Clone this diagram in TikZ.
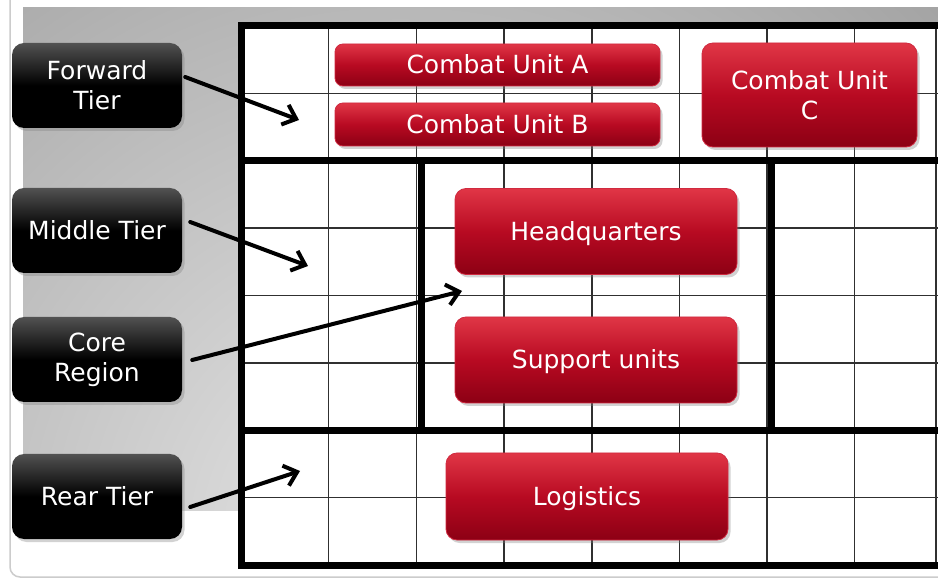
\documentclass[tikz,border=0pt]{standalone}
\usepackage{fontspec}
\setmainfont{DejaVu Sans}
\usetikzlibrary{arrows.meta,shadows,calc}
\definecolor{redT}{HTML}{E03646}
\definecolor{redM}{HTML}{B80A22}
\definecolor{redB}{HTML}{8C0014}
\definecolor{redEdge}{HTML}{D02A40}
\definecolor{gridc}{HTML}{303030}
\definecolor{bgOuter}{HTML}{A0A0A0}
\definecolor{bgInner}{HTML}{E6E6E6}
\newcommand\lblfont{\fontsize{25}{30}\selectfont}
\tikzset{
  redbox/.style={rounded corners=11pt, draw=redEdge, line width=0.8pt,
    top color=redT, bottom color=redB, middle color=redM,
    text=white, font=\lblfont, inner sep=0pt, align=center,
    drop shadow={shadow xshift=2.5pt, shadow yshift=-3pt, opacity=0.35}},
  oneline/.style={text height=18pt, text depth=0pt},
  blkbox/.style={rounded corners=12pt, top color=black!68, bottom color=black, middle color=black,
    text=white, font=\lblfont, minimum width=170pt, minimum height=85pt,
    inner sep=0pt, align=center,
    drop shadow={shadow xshift=2.5pt, shadow yshift=-3pt, opacity=0.35}},
  arr/.style={line width=4pt, line cap=round, line join=round,
    -{Straight Barb[length=12pt,width=21pt]}},
  gridthin/.style={draw=gridc, line width=1.4pt},
  gridthick/.style={draw=black, line width=7pt},
}
\begin{document}
\begin{tikzpicture}[x=1pt,y=1pt]
\useasboundingbox (0,0) rectangle (938,579);
\clip (0,0) rectangle (938,579);
\fill[white] (0,0) rectangle (938,579);
% outer frame
\draw[gray!40, line width=1.5pt, rounded corners=10pt] (10,2) rectangle (990,620);
% gray background
\begin{scope}
  \clip (23,68) rectangle (938,571);
  \shade[inner color=bgInner, outer color=bgOuter] (400,40) circle (800);
\end{scope}
% grid
\fill[white] (241,14) rectangle (945,553);
\foreach \x in {328.5,416.5,504,592,679.5,767,854.5,936}
  \draw[gridthin] (\x,14) -- (\x,553);
\foreach \y in {485.6,350.8,283.4,216,81.2}
  \draw[gridthin] (241,\y) -- (945,\y);
\draw[gridthick, line join=miter] (950,553) -- (241,553) -- (241,14) -- (950,14);
\draw[gridthick] (241,418.2) -- (950,418.2);
\draw[gridthick] (241,148.6) -- (950,148.6);
\draw[gridthick] (421,418.2) -- (421,148.6);
\draw[gridthick] (771,418.2) -- (771,148.6);
% red boxes
\node[redbox, oneline, minimum width=325pt, minimum height=42pt, rounded corners=8pt] (cua) at (497.5,514) {Combat Unit A};
\node[redbox, oneline, minimum width=325pt, minimum height=43pt, rounded corners=8pt] (cub) at (497.5,454.5) {Combat Unit B};
\node[redbox, minimum width=215pt, minimum height=104pt] (cuc) at (809.5,484) {Combat Unit\\C};
\node[redbox, oneline, minimum width=282pt, minimum height=86pt] (hq) at (596,347.5) {Headquarters};
\node[redbox, oneline, minimum width=282pt, minimum height=86pt] (sup) at (596,219) {Support units};
\node[redbox, oneline, minimum width=282pt, minimum height=87pt] (log) at (587,82.5) {Logistics};
% black labels
\node[blkbox] (fwd) at (97,493.5) {Forward\\Tier};
\node[blkbox, oneline] (mid) at (97,348.5) {Middle Tier};
\node[blkbox] (core) at (97,219.5) {Core\\Region};
\node[blkbox, oneline] (rear) at (97,82.5) {Rear Tier};
% arrow targets
\coordinate (fwdtip) at (299,459);
\coordinate (midtip) at (308,313);
\coordinate (coretip) at (462,288);
\coordinate (reartip) at (300,108);
\draw[arr] ($(fwd.east)+(3,8.5)$) -- (fwdtip);
\draw[arr] ($(mid.east)+(8,8.5)$) -- (midtip);
\draw[arr] ($(core.east)+(10,-0.5)$) -- (coretip);
\draw[arr] ($(rear.east)+(8,-10.5)$) -- (reartip);
\end{tikzpicture}
\end{document}
